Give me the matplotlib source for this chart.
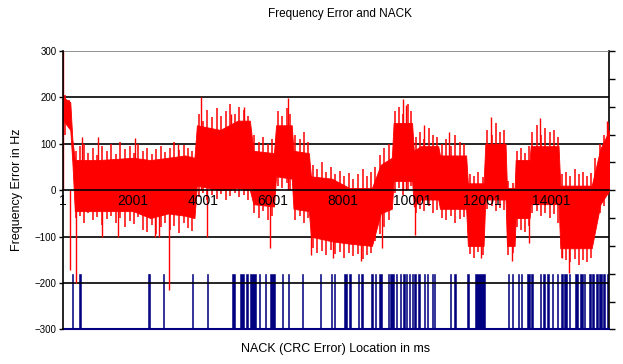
import matplotlib
matplotlib.use("Agg")
import matplotlib.pyplot as plt

plt.rcParams['font.family'] = ['Liberation Sans', 'DejaVu Sans']

# number of 1 ms samples on the category axis
n_samples = 15660
x_tick_pos = [0, 2000, 4000, 6000, 8000, 10000, 12000, 14000]
x_tick_labels = ["1", "2001", "4001", "6001", "8001", "10001", "12001", "14001"]

# frequency error: dense body of the trace (upper / lower edge)
env_ms = [0, 200, 260, 330, 1000, 2000, 2500, 3000, 3500, 3760, 3830, 4500,
          5000, 5350, 5450, 6040, 6100, 6550, 6600, 7040, 7100, 7700, 8200,
          8850, 9100, 9420, 9470, 10000, 10050, 10250, 10750, 10800, 11550,
          11600, 12050, 12100, 12680, 12720, 12940, 12970, 13370, 13400,
          14200, 14250, 15150, 15400, 15660]
env_hi = [200, 190, 110, 65, 65, 70, 65, 70, 75, 70, 140, 130,
          150, 150, 85, 80, 140, 140, 85, 80, 30, 25, 5,
          5, 55, 70, 145, 145, 85, 95, 95, 75, 75,
          15, 15, 100, 100, 5, 5, 65, 65, 95,
          95, 10, 10, 90, 130]
env_lo = [150, 130, 60, -45, -45, -45, -60, -50, -55, -60, 10, 0,
          5, 0, -30, -35, 30, 25, -40, -45, -100, -110, -115,
          -120, -50, -40, 20, 20, -35, -20, -20, -40, -40,
          -120, -120, -20, -20, -120, -120, -60, -60, -30,
          -30, -125, -125, -30, 0]

# local max / min of the noisy trace at sampled positions (ms, Hz)
hair_ms = [50, 150,
           350, 480, 600, 720, 850, 980, 1120, 1250, 1380, 1500, 1640, 1760,
           1900, 2020, 2150, 2280, 2400, 2530, 2660, 2800, 2930, 3060, 3180,
           3320, 3450, 3580, 3700,
           3880, 4000, 4130, 4260, 4400, 4530, 4660, 4790, 4920, 5050, 5180, 5300,
           5480, 5600, 5730, 5860, 5980,
           6150, 6280, 6400, 6500,
           6650, 6780, 6900, 7010,
           7150, 7280, 7410, 7540, 7670, 7800, 7930, 8060, 8190, 8320, 8450,
           8580, 8710, 8820,
           8950, 9080, 9200, 9330,
           9500, 9620, 9750, 9870, 9980,
           10100, 10220, 10350, 10480, 10600, 10720,
           10850, 10980, 11110, 11240, 11370, 11500,
           11650, 11780, 11900, 12020,
           12150, 12280, 12400, 12530, 12650,
           12760, 12880,
           13000, 13120, 13240, 13350,
           13450, 13580, 13700, 13820, 13950, 14080, 14180,
           14300, 14420, 14540, 14660, 14780, 14900, 15020, 15130,
           15250, 15380, 15500, 15620]
hair_hi = [205, 195,
           85, 95, 100, 80, 90, 75, 95, 85, 100, 78, 105, 88,
           96, 80, 100, 85, 92, 78, 88, 95, 82, 90, 104,
           86, 98, 90, 85,
           165, 150, 172, 158, 178, 160, 170, 185, 165, 180, 172, 160,
           120, 105, 115, 100, 110,
           170, 160, 178, 165,
           120, 110, 125, 105,
           55, 45, 60, 40, 50, 35, 42, 30, 38, 25, 35,
           45, 30, 40,
           50, 75, 90, 100,
           170, 180, 165, 185, 170,
           115, 125, 110, 135, 120, 115,
           100, 110, 95, 120, 105, 100,
           35, 30, 40, 28,
           130, 120, 145, 125, 130,
           20, 15,
           85, 90, 80, 95,
           125, 140, 120, 135, 125, 130, 115,
           35, 40, 30, 45, 35, 40, 30, 38,
           70, 100, 120, 145]
hair_lo = [120, 140,
           -60, -55, -70, -50, -65, -58, -75, -62, -55, -70, -60, -80,
           -66, -72, -58, -85, -90, -75, -95, -80, -70, -85, -78,
           -92, -70, -82, -88,
           -15, -5, -20, -10, -18, -8, -22, -12, -5, -15, -10, -20,
           -50, -60, -45, -65, -55,
           10, 5, 15, 0,
           -65, -55, -70, -60,
           -125, -135, -130, -140, -128, -138, -132, -145, -135, -142, -138,
           -148, -140, -135,
           -110, -95, -80, -65,
           -5, 5, -10, 0, 10,
           -50, -40, -45, -35, -50, -42,
           -60, -65, -55, -70, -62, -58,
           -138, -145, -132, -140,
           -40, -35, -45, -38, -42,
           -140, -135,
           -80, -85, -90, -78,
           -50, -45, -55, -48, -60, -52, -70,
           -145, -150, -155, -148, -160, -150, -155, -145,
           -80, -50, -35, -10]

# isolated spikes of the trace (ms, Hz)
spike_ms = [0, 192, 364, 527, 1002, 1100, 1575, 2060, 2625, 2740, 3035, 3284,
            3942, 4123, 4800, 5190, 5918, 6433, 7110, 7730, 8543, 9124, 9726,
            9820, 10090, 10330, 11050, 11978, 12270, 12866, 13340, 13670,
            14300, 14487, 15600]
spike_val = [300, -171, -200, 115, 115, -100, -100, 112, -100, -100, -215, 100,
             200, -100, 165, 180, -125, 198, -139, -145, -153, -125, 196,
             183, -97, 140, 126, -146, 158, -153, -114, 155,
             -146, -178, 150]

# NACK (CRC error) locations in ms, start / end of each run
nack_start = [240, 450, 2416, 2462, 2863, 3693, 4114, 4850, 5059, 5231, 5345,
              5611, 5775, 5918, 6276, 6447, 6834, 7349, 7664, 7764, 8036, 8188,
              8446, 8532, 8809, 8924, 9038, 9305, 9368, 9545, 9660, 9754, 9826,
              9903, 9998, 10069, 10178, 10335, 10427, 10564, 10636, 11077,
              11214, 11564, 11816, 12740, 12866, 13027, 13124, 13284, 13419,
              13671, 13768, 13877, 14000, 14155, 14283, 14364, 14507, 14679,
              14822, 14936, 15065, 15165, 15271, 15366, 15480, 15575]
nack_end = [240, 500, 2416, 2462, 2863, 3693, 4114, 4924, 5173, 5296, 5537,
            5651, 5775, 6061, 6276, 6447, 6834, 7349, 7664, 7764, 8131, 8257,
            8446, 8589, 8875, 8973, 9139, 9339, 9468, 9545, 9660, 9754, 9826,
            9903, 9998, 10069, 10178, 10335, 10427, 10564, 10636, 11077,
            11214, 11644, 12102, 12740, 12866, 13027, 13124, 13382, 13419,
            13671, 13768, 13877, 14000, 14155, 14283, 14450, 14507, 14745,
            14888, 14936, 15128, 15203, 15317, 15443, 15537, 15575]

red = "#ff0000"
navy = "#000080"

fig = plt.figure(figsize=(6.23, 3.64), dpi=100)
ax = fig.add_axes([0.1016, 0.0948, 0.8767, 0.7651])
ax2 = ax.twinx()
ax.set_zorder(ax2.get_zorder() + 1)
ax.patch.set_visible(False)

# NACK columns on the secondary axis
widths = [max(e - s, 35) for s, e in zip(nack_start, nack_end)]
ax2.bar(nack_start, [1] * len(nack_start), width=widths, align="edge",
        color=navy, edgecolor=navy, linewidth=0.4)
ax2.set_ylim(0, 5)
ax2.set_yticks([i * 0.5 for i in range(11)])
ax2.set_yticklabels([])
ax2.tick_params(axis="y", direction="out", length=4, width=1, color="black")
ax2.spines["right"].set_linewidth(1.2)
ax2.spines["bottom"].set_color(navy)
ax2.spines["bottom"].set_linewidth(1.5)
ax2.spines["top"].set_visible(False)
ax2.spines["left"].set_visible(False)

# gridlines
for v in [200, 100, -100, -200]:
    ax.axhline(v, color="black", lw=1.2, zorder=0.5)
ax.axhline(300, color="#808080", lw=1.2, zorder=0.5)

# frequency error trace
ax.fill_between(env_ms, env_lo, env_hi, color=red, lw=0.6, edgecolor=red, zorder=1)
ax.vlines(hair_ms, hair_lo, hair_hi, color=red, lw=1.1, zorder=1)
ax.vlines(spike_ms, 0, spike_val, color=red, lw=1, zorder=1)

ax.set_xlim(0, n_samples)
ax.set_ylim(-300, 300)
ax.set_yticks(range(-300, 301, 100))
ax.tick_params(axis="y", direction="out", length=3, width=1, labelsize=7, pad=2)
ax.set_xticks(x_tick_pos)
ax.set_xticklabels(x_tick_labels, fontsize=7)
ax.tick_params(axis="x", length=0, pad=3)
ax.spines["bottom"].set_position(("data", 0))
ax.spines["bottom"].set_linewidth(1.2)
ax.spines["left"].set_linewidth(1.2)
ax.spines["top"].set_visible(False)
ax.spines["right"].set_visible(False)

fig.text(0.546, 0.9615, "Frequency Error and NACK", ha="center", va="center", fontsize=8.5)
fig.text(0.027, 0.478, "Frequency Error in Hz", ha="center", va="center",
         rotation=90, fontsize=9)
fig.text(0.539, 0.041, "NACK (CRC Error) Location in ms", ha="center", va="center",
         fontsize=9)

fig.savefig("out.png", dpi=100)
